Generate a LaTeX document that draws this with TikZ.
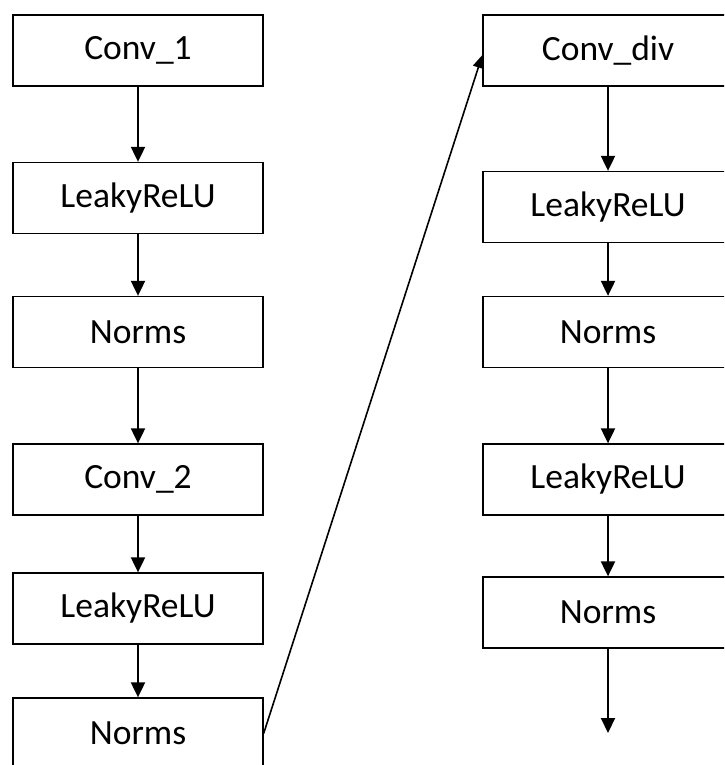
\documentclass[tikz,border=0pt]{standalone}
\usepackage{fontspec}
\setmainfont{Carlito}
\usetikzlibrary{arrows.meta}
\begin{document}
\begin{tikzpicture}[x=1pt,y=-1pt,
  blk/.style={draw=black,line width=1.3pt,fill=white,minimum width=250pt,minimum height=71pt,inner sep=0pt,font=\fontsize{35.5}{40}\selectfont},
  flow/.style={line width=2pt,-{Triangle[length=15pt,width=14pt]}},
  link/.style={line width=1.6pt,-{Triangle[length=13pt,width=11pt]}}]
\useasboundingbox (0,0) rectangle (724,765);
\clip (0,0) rectangle (724,765);
\node[blk] (c1) at (138,50.5) {Conv\_1};
\node[blk] (l1) at (138,198) {LeakyReLU};
\node[blk] (n1) at (138,332) {Norms};
\node[blk] (c2) at (138,479.5) {Conv\_2};
\node[blk] (l2) at (138,608.5) {LeakyReLU};
\node[blk] (n2) at (138,733.5) {Norms};
\node[blk] (cd) at (608,50.5) {Conv\_div};
\node[blk] (l3) at (608,207) {LeakyReLU};
\node[blk] (n3) at (608,332) {Norms};
\node[blk] (l4) at (608,479.5) {LeakyReLU};
\node[blk] (n4) at (608,612.5) {Norms};
\coordinate (out) at (608,733);
\draw[flow] (c1) -- (l1);
\draw[flow] (l1) -- (n1);
\draw[flow] (n1) -- (c2);
\draw[flow] (c2) -- (l2);
\draw[flow] (l2) -- (n2);
\draw[link] (n2.east) -- ([yshift=-4.5pt]cd.west);
\draw[flow] (cd) -- (l3);
\draw[flow] (l3) -- (n3);
\draw[flow] (n3) -- (l4);
\draw[flow] (l4) -- (n4);
\draw[flow] (n4) -- (out);
\end{tikzpicture}
\end{document}
